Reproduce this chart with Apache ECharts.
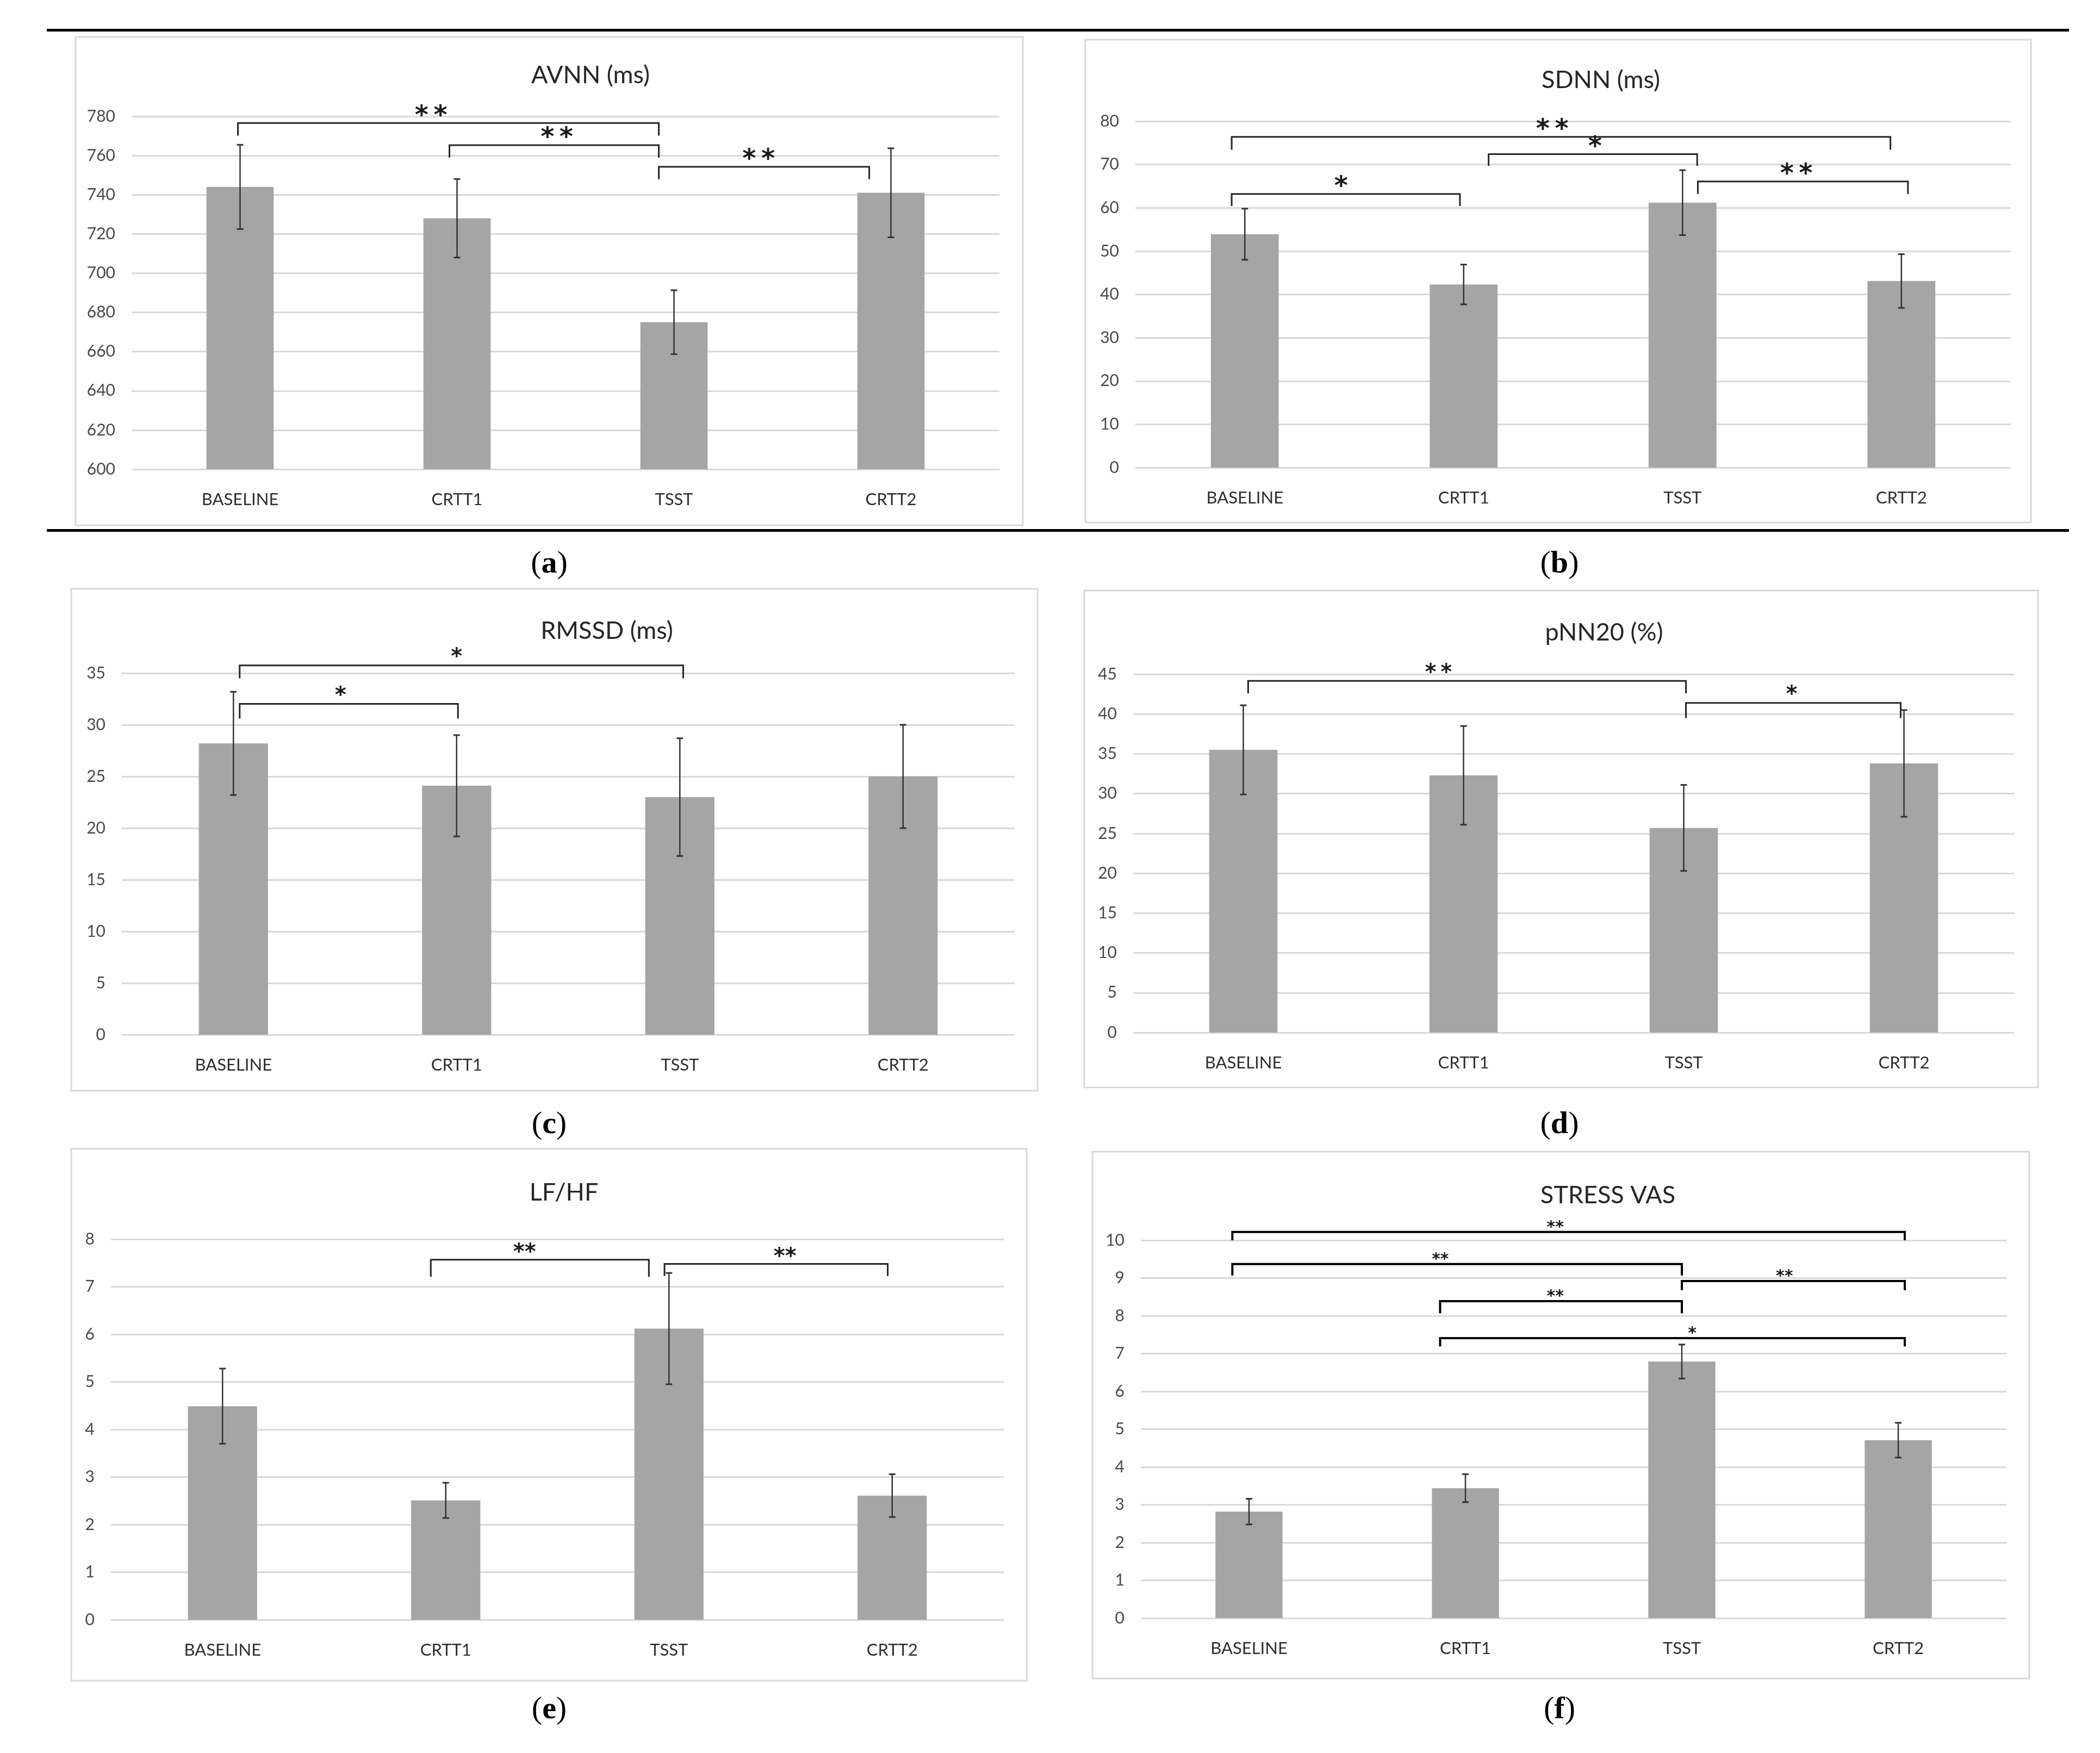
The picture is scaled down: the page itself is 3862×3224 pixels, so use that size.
<!DOCTYPE html>
<html><head><meta charset="utf-8">
<script src="https://cdn.jsdelivr.net/npm/echarts@6/dist/echarts.min.js"></script>
<style>html,body{margin:0;padding:0;background:#fff}#c{width:3862px;height:3224px}</style>
</head><body><div id="c"></div>
<script>
// ---------- DATA ----------
const categories = ['BASELINE', 'CRTT1', 'TSST', 'CRTT2'];

const avnnMean  = [744, 728, 675, 741];
const avnnErr   = [21.5, 20, 16.3, 22.7];
const sdnnMean  = [53.9, 42.3, 61.2, 43.1];
const sdnnErr   = [5.9, 4.6, 7.5, 6.2];
const rmssdMean = [28.2, 24.1, 23.0, 25.0];
const rmssdErr  = [5.0, 4.9, 5.7, 5.0];
const pnn20Mean = [35.5, 32.3, 25.7, 33.8];
const pnn20Err  = [5.6, 6.2, 5.4, 6.7];
const lfhfMean  = [4.49, 2.51, 6.12, 2.61];
const lfhfErr   = [0.79, 0.37, 1.17, 0.45];
const vasMean   = [2.82, 3.44, 6.79, 4.71];
const vasErr    = [0.34, 0.37, 0.45, 0.46];

// significance brackets: [from (category units), to, line y, leg end y, star x, label]
const avnnBrackets  = [[-0.01, 1.93, 776.6, 770.2, 0.88, '**'], [0.965, 1.93, 765.3, 759, 1.46, '**'], [1.93, 2.9, 754.3, 748, 2.39, '**']];
const sdnnBrackets  = [[-0.06, 2.95, 76.4, 73.4, 1.405, '**'], [1.114, 2.067, 72.4, 69.7, 1.6, '*'], [-0.06, 0.983, 63.2, 60.4, 0.44, '*'], [2.07, 3.03, 66.1, 63.2, 2.52, '**']];
const rmssdBrackets = [[0.028, 2.015, 35.75, 34.5, 1.0, '*'], [0.028, 1.006, 32.03, 30.6, 0.48, '*']];
const pnn20Brackets = [[0.022, 2.01, 44.16, 42.6, 0.886, '**'], [2.01, 2.985, 41.4, 39.5, 2.49, '*']];
const lfhfBrackets  = [[0.933, 1.91, 7.57, 7.21, 1.353, '**'], [1.98, 2.98, 7.48, 7.23, 2.52, '**']];
const vasBrackets   = [[-0.077, 3.03, 10.22, 10.0, 1.415, '**'], [-0.077, 2.0, 9.37, 9.07, 0.884, '**'], [2.0, 3.03, 8.92, 8.68, 2.474, '**'], [0.883, 2.0, 8.39, 8.07, 1.415, '**'], [0.883, 3.03, 7.41, 7.19, 2.048, '*']];

const titles = ['AVNN (ms)', 'SDNN (ms)', 'RMSSD (ms)', 'pNN20 (%)', 'LF/HF', 'STRESS VAS'];
const subLabels = ['a', 'b', 'c', 'd', 'e', 'f'];
const yMin = [600, 0, 0, 0, 0, 0];
const yMax = [780, 80, 35, 45, 8, 10];
const yInterval = [20, 10, 5, 5, 1, 1];

// ---------- LAYOUT ----------
const panelData = [
  {mean: avnnMean, err: avnnErr, br: avnnBrackets},
  {mean: sdnnMean, err: sdnnErr, br: sdnnBrackets},
  {mean: rmssdMean, err: rmssdErr, br: rmssdBrackets},
  {mean: pnn20Mean, err: pnn20Err, br: pnn20Brackets},
  {mean: lfhfMean, err: lfhfErr, br: lfhfBrackets},
  {mean: vasMean, err: vasErr, br: vasBrackets}
];
const layout = [
  {g: [242, 214, 1596, 649],  box: [139, 68, 1742, 898],   t: [1086, 138],  sub: [1010, 1038], star: {fs: 48, dy: 12, lw: 3, col: '#262626', text: s => s.split('').join('\u2009')}},
  {g: [2088, 223, 1610, 637], box: [1996, 73, 1739, 888],  t: [2944, 147],  sub: [2868, 1038], star: {fs: 48, dy: 12, lw: 3, col: '#262626', text: s => s.split('').join('\u2009')}},
  {g: [224, 1238, 1642, 665], box: [131, 1083, 1777, 923], t: [1116, 1160], sub: [1010, 2069], star: {fs: 40, dy: 14, lw: 3, col: '#262626', text: s => s.split('').join('\u2009')}},
  {g: [2084, 1240, 1620, 659], box: [1994, 1086, 1754, 914], t: [2950, 1163], sub: [2868, 2069], star: {fs: 40, dy: 14, lw: 3, col: '#262626', text: s => s.split('').join('\u2009')}},
  {g: [204, 2279, 1642, 700], box: [131, 2113, 1757, 978], t: [1037, 2193], sub: [1010, 3145], star: {fs: 40, dy: 12, lw: 3, col: '#262626', text: s => s}},
  {g: [2098, 2281, 1592, 695], box: [2009, 2118, 1723, 969], t: [2957, 2198], sub: [2868, 3145], star: {fs: 30, dy: 8, lw: 4, col: '#000', text: s => s}}
];

const FONT = 'Lato, "Open Sans", sans-serif';
const grids = [], xAxes = [], yAxes = [], series = [], graphics = [];

// black rules
graphics.push({type: 'rect', shape: {x: 86, y: 53, width: 3719, height: 5}, style: {fill: '#000'}});
graphics.push({type: 'rect', shape: {x: 86, y: 973, width: 3719, height: 5}, style: {fill: '#000'}});

layout.forEach((L, i) => {
  grids.push({left: L.g[0], top: L.g[1], width: L.g[2], height: L.g[3], containLabel: false, outerBoundsMode: 'none'});
  xAxes.push({
    type: 'category', gridIndex: i, data: categories,
    axisLine: {show: false}, axisTick: {show: false},
    axisLabel: {fontFamily: FONT, fontSize: 31, color: '#2e2e2e', margin: 40}
  });
  yAxes.push({
    type: 'value', gridIndex: i, min: yMin[i], max: yMax[i], interval: yInterval[i],
    axisLine: {show: false}, axisTick: {show: false},
    axisLabel: {fontFamily: FONT, fontSize: 30, color: '#4a4a4a', margin: 30},
    splitLine: {show: true, lineStyle: {color: '#d9d9d9', width: 3}}
  });
  graphics.push({type: 'rect', shape: {x: L.box[0], y: L.box[1], width: L.box[2], height: L.box[3]},
    style: {fill: 'none', stroke: '#d9d9d9', lineWidth: 3}, z: -1});
  graphics.push({type: 'text', x: L.t[0], y: L.t[1],
    style: {text: titles[i], fontFamily: FONT, fontSize: 45, fill: '#262626', align: 'center', verticalAlign: 'middle'}});
  graphics.push({type: 'text', x: L.sub[0], y: L.sub[1],
    style: {text: '{p|(}{b|' + subLabels[i] + '}{p|)}', align: 'center', verticalAlign: 'middle',
      rich: {p: {fontFamily: '"Liberation Serif", "DejaVu Serif", serif', fontSize: 58, fill: '#000'},
             b: {fontFamily: '"Liberation Serif", "DejaVu Serif", serif', fontSize: 58, fontWeight: 'bold', fill: '#000'}}}});
});
layout.forEach((L, i) => {
  xAxes.push({type: 'value', gridIndex: i, min: -0.5, max: 3.5, show: false, splitLine: {show: false}});
});

layout.forEach((L, i) => {
  const P = panelData[i];
  series.push({
    type: 'bar', xAxisIndex: i, yAxisIndex: i, data: P.mean, barWidth: '31%',
    itemStyle: {color: '#a5a5a5'}, animation: false, z: 2
  });
  series.push({
    type: 'custom', xAxisIndex: i, yAxisIndex: i, animation: false, z: 3, clip: false,
    data: P.mean.map((m, k) => [k, m - P.err[k], m + P.err[k]]),
    encode: {x: 0, y: [1, 2]},
    renderItem: function (params, api) {
      const x = api.value(0), lo = api.value(1), hi = api.value(2);
      const a = api.coord([x, hi]), b = api.coord([x, lo]);
      const hw = 6, c = '#333333';
      return {type: 'group', children: [
        {type: 'line', shape: {x1: a[0], y1: a[1], x2: b[0], y2: b[1]}, style: {stroke: c, lineWidth: 2.5}},
        {type: 'line', shape: {x1: a[0] - hw, y1: a[1], x2: a[0] + hw, y2: a[1]}, style: {stroke: c, lineWidth: 3}},
        {type: 'line', shape: {x1: b[0] - hw, y1: b[1], x2: b[0] + hw, y2: b[1]}, style: {stroke: c, lineWidth: 3}}
      ]};
    }
  });
  const S = L.star;
  series.push({
    type: 'custom', xAxisIndex: 6 + i, yAxisIndex: i, animation: false, z: 4, clip: false,
    data: P.br.map(b => [b[0], b[1], b[2], b[3], b[4]]),
    encode: {x: [0, 1, 4], y: [2, 3]},
    renderItem: function (params, api) {
      const x1 = api.value(0), x2 = api.value(1), yl = api.value(2), yg = api.value(3), sx = api.value(4);
      const p1 = api.coord([x1, yg]), p2 = api.coord([x1, yl]), p3 = api.coord([x2, yl]), p4 = api.coord([x2, yg]);
      const ps = api.coord([sx, yl]);
      const lbl = P.br[params.dataIndex][5];
      return {type: 'group', children: [
        {type: 'polyline', shape: {points: [p1, p2, p3, p4]}, style: {stroke: S.col, lineWidth: S.lw, fill: 'none'}},
        {type: 'text', x: ps[0], y: ps[1] - S.dy,
          style: {text: S.text(lbl), fontFamily: '"DejaVu Sans", sans-serif', fontWeight: 'bold', fontSize: S.fs,
            fill: '#1a1a1a', align: 'center', verticalAlign: 'middle'}}
      ]};
    }
  });
});

const chart = echarts.init(document.getElementById('c'), null, {renderer: 'canvas'});
chart.setOption({
  backgroundColor: '#ffffff',
  animation: false,
  grid: grids, xAxis: xAxes, yAxis: yAxes, series: series,
  graphic: graphics
});
</script>
</body></html>
